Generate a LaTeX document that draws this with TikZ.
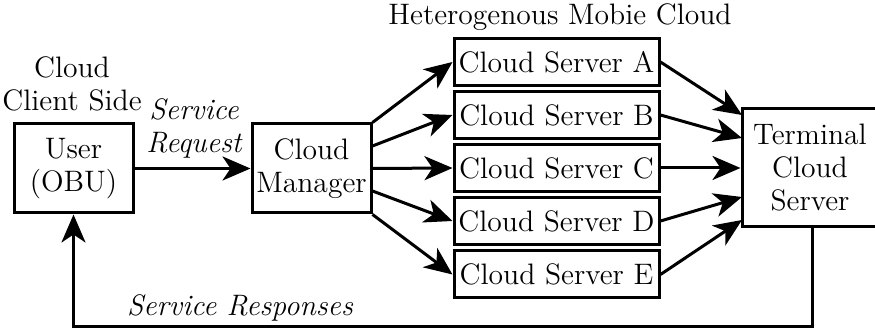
\documentclass[tikz,border=0pt]{standalone}
\usetikzlibrary{arrows.meta}
\begin{document}
\begin{tikzpicture}[x=0.5pt,y=-0.5pt,
  box/.style={draw,line width=1.5pt,rectangle,inner sep=0pt,align=center,
    font=\rmfamily\fontsize{14.8}{16.5}\selectfont},
  lbl/.style={inner sep=0pt,align=center,font=\rmfamily\fontsize{14.8}{16.5}\selectfont},
  ilbl/.style={inner sep=0pt,align=center,font=\rmfamily\fontsize{14.8}{16.5}\selectfont\itshape},
  arr/.style={line width=1.5pt,-{Stealth[length=14pt,width=12pt,inset=4pt]}}]
\useasboundingbox (0,0) rectangle (875,331);
\node[box,minimum width=119pt/2,minimum height=89pt/2] (user) at (73.5,168.5) {User\\(OBU)};
\node[box,minimum width=119pt/2,minimum height=89pt/2] (mgr) at (311.5,168.5) {Cloud\\Manager};
\node[box,minimum width=205pt/2,minimum height=47pt/2] (sa) at (556.5,62) {Cloud Server A};
\node[box,minimum width=205pt/2,minimum height=47pt/2] (sb) at (556.5,115) {Cloud Server B};
\node[box,minimum width=205pt/2,minimum height=47pt/2] (sc) at (556.5,168) {Cloud Server C};
\node[box,minimum width=205pt/2,minimum height=47pt/2] (sd) at (556.5,221) {Cloud Server D};
\node[box,minimum width=205pt/2,minimum height=47pt/2] (se) at (556.5,274.5) {Cloud Server E};
\node[box,minimum width=140pt/2,minimum height=118pt/2] (term) at (812,168) {};
\node[lbl] (termtxt) at (810,168) {Terminal\\Cloud\\Server};
\node[lbl] (client) at (72,84) {Cloud\\Client Side};
\node[ilbl] (req) at (194,128) {Service\\Request};
\node[ilbl] (resp) at (240,308) {Service Responses};
\node[lbl] (het) at (560,17) {Heterogenous Mobie Cloud};
\draw[arr] (user.east) -- (mgr.west);
\draw[arr] (mgr.north east) -- (sa.west);
\draw[arr] ([yshift=11.25pt]mgr.east) -- (sb.west);
\draw[arr] (mgr.east) -- (sc.west);
\draw[arr] ([yshift=-11.25pt]mgr.east) -- (sd.west);
\draw[arr] (mgr.south east) -- (se.west);
\coordinate (ta) at (742,115);
\coordinate (tb) at (742,138);
\coordinate (td) at (742,197);
\coordinate (te) at (742,220);
\draw[arr] (sa.east) -- (ta);
\draw[arr] (sb.east) -- (tb);
\draw[arr] (sc.east) -- (sc.east -| term.west);
\draw[arr] (sd.east) -- (td);
\draw[arr] (se.east) -- (te);
\coordinate (fb) at (812,327);
\draw[arr] (term.south -| fb) -- (fb) -- (fb -| user.south) -- (user.south);
\end{tikzpicture}
\end{document}
